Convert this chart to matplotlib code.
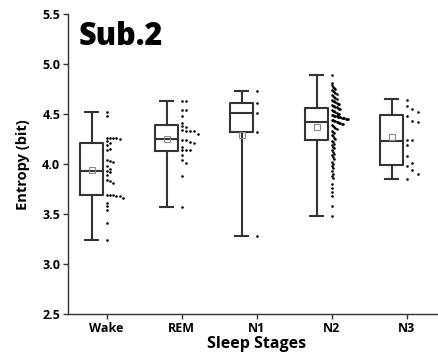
import matplotlib
matplotlib.use("Agg")
import matplotlib.pyplot as plt
import numpy as np

plt.rcParams['font.family'] = ['Open Sans', 'DejaVu Sans']

stages = ["Wake", "REM", "N1", "N2", "N3"]

# box statistics
whislo = [3.245, 3.57, 3.28, 3.48, 3.85]
q1 = [3.69, 4.135, 4.32, 4.245, 3.995]
med = [3.93, 4.255, 4.51, 4.42, 4.235]
q3 = [4.215, 4.395, 4.61, 4.56, 4.495]
whishi = [4.525, 4.635, 4.735, 4.895, 4.65]
means = [3.94, 4.25, 4.29, 4.37, 4.27]

wake = [4.525, 4.48, 4.26, 4.26, 4.26, 4.26, 4.25, 4.23, 4.21, 4.195, 4.15, 4.14,
        4.04, 4.03, 4.02, 3.985, 3.95, 3.93, 3.92, 3.895, 3.845, 3.83, 3.81,
        3.695, 3.695, 3.69, 3.68, 3.68, 3.665, 3.61, 3.58, 3.545, 3.41, 3.245]
rem = [4.635, 4.635, 4.545, 4.545, 4.485, 4.415, 4.385, 4.37, 4.345, 4.33, 4.33,
       4.33, 4.305, 4.24, 4.24, 4.22, 4.21, 4.17, 4.145, 4.14, 4.14, 4.095,
       4.045, 4.01, 3.885, 3.57]
n1 = [4.735, 4.61, 4.51, 4.32, 3.28]
n2 = [4.895,
      4.81, 4.79, 4.77, 4.76, 4.75,
      4.74, 4.73, 4.72, 4.71, 4.70, 4.69, 4.68, 4.67, 4.66, 4.65,
      4.64, 4.63, 4.63, 4.62, 4.61, 4.60, 4.60, 4.59, 4.58, 4.58, 4.57, 4.57,
      4.56, 4.55, 4.55, 4.54, 4.53, 4.53, 4.52, 4.51,
      4.50, 4.50, 4.49, 4.49, 4.48, 4.48, 4.48, 4.47, 4.47, 4.47, 4.46, 4.46,
      4.46, 4.45, 4.45, 4.45, 4.44, 4.44, 4.43, 4.43, 4.42, 4.42, 4.41, 4.41,
      4.40, 4.40, 4.39, 4.38, 4.37, 4.36,
      4.35, 4.33, 4.32, 4.31, 4.29, 4.28, 4.26, 4.25,
      4.23, 4.22, 4.20, 4.19, 4.17, 4.16, 4.14, 4.12, 4.10, 4.09,
      4.07, 4.05, 4.02, 4.00, 3.98, 3.96,
      3.93, 3.90, 3.88, 3.86,
      3.80, 3.76, 3.72, 3.68,
      3.58, 3.48]
n3 = [4.645, 4.585, 4.552, 4.518, 4.478, 4.428, 4.418, 4.238, 4.238, 4.195,
      4.078, 4.012, 3.978, 3.938, 3.905, 3.852]
groups = [wake, rem, n1, n2, n3]

ink = "#333333"
bin_w = [0.05, 0.05, 0.1, 0.05, 0.1]


def spread(vals, bw, width=0.22, max_step=0.075):
    # points of one histogram bin are laid side by side to the right
    vals = np.asarray(vals)
    bins = np.floor(vals / bw + 1e-9).astype(int)
    order = np.argsort(-vals, kind="stable")
    counts = {}
    rank = np.zeros(len(vals), dtype=int)
    for j in order:
        rank[j] = counts.get(bins[j], 0)
        counts[bins[j]] = rank[j] + 1
    mx = max(counts.values())
    step = max_step if mx < 2 else min(max_step, width / (mx - 1))
    return rank * step


fig = plt.figure(figsize=(4.38, 3.6), dpi=100)
ax = fig.add_axes([0.155, 0.128, 0.8425, 0.832])

stats = []
for i in range(len(stages)):
    stats.append(dict(whislo=whislo[i], q1=q1[i], med=med[i], q3=q3[i],
                      whishi=whishi[i], mean=means[i], fliers=[]))

pos = np.arange(len(stages))
ax.bxp(stats, positions=pos - 0.2, widths=0.3, showmeans=True,
       showfliers=False, manage_ticks=False,
       boxprops=dict(color=ink, linewidth=1.5),
       medianprops=dict(color=ink, linewidth=1.5),
       whiskerprops=dict(color=ink, linewidth=1.5),
       capprops=dict(color=ink, linewidth=1.5),
       capwidths=0.17,
       meanprops=dict(marker="s", markerfacecolor="none",
                      markeredgecolor="#888888", markersize=4.5,
                      markeredgewidth=0.8))

for i, g in enumerate(groups):
    xs = pos[i] + spread(g, bin_w[i])
    ax.scatter(xs, g, s=3.5, color="black", linewidths=0, zorder=3)

ax.set_xlim(-0.516, 4.404)
ax.set_ylim(2.5, 5.5)
ax.set_xticks(pos)
ax.set_xticklabels(stages)
ax.set_yticks(np.arange(2.5, 5.51, 0.5))
ax.set_yticklabels([f"{t:.1f}" for t in np.arange(2.5, 5.51, 0.5)])

for s in ["top", "right"]:
    ax.spines[s].set_visible(False)
for s in ["left", "bottom"]:
    ax.spines[s].set_color(ink)
    ax.spines[s].set_linewidth(1.0)
ax.tick_params(axis="both", direction="out", length=3.5, width=1.0,
               color=ink, labelsize=9, pad=2)
for lbl in ax.get_xticklabels() + ax.get_yticklabels():
    lbl.set_fontweight("bold")

ax.set_xlabel("Sleep Stages", fontsize=11.5, fontweight="bold")
ax.xaxis.set_label_coords(0.511, -0.075)
ax.set_ylabel("Entropy (bit)", fontsize=10.5, fontweight="bold", labelpad=9)

ax.text(0.028, 0.925, "Sub.2", transform=ax.transAxes, fontsize=22,
        fontweight="heavy", va="center", ha="left")

fig.savefig("out.png", dpi=100)
